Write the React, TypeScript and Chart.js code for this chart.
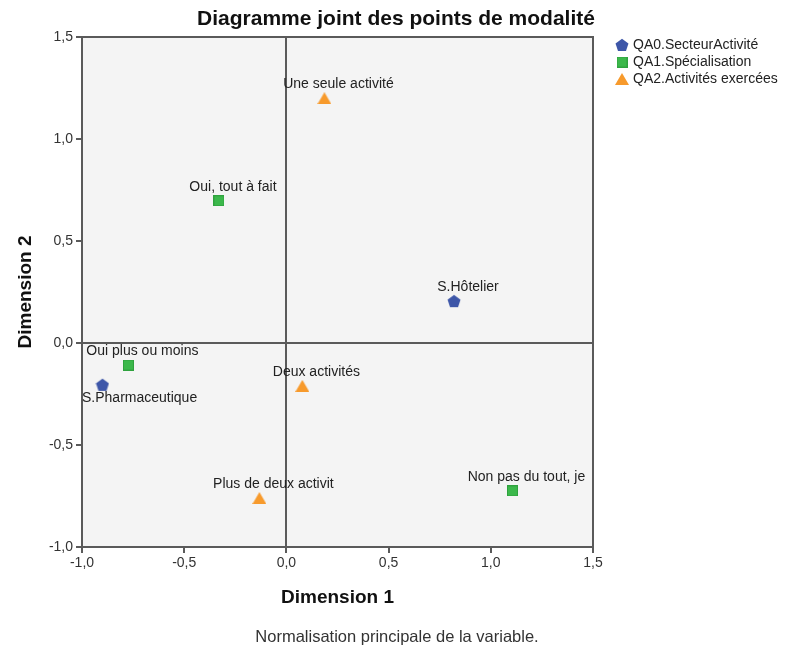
import React, { useEffect, useRef } from "react";
import { Chart, registerables } from "chart.js";

Chart.register(...registerables);

const chartTitle = "Diagramme joint des points de modalité";
const footnote = "Normalisation principale de la variable.";
const xAxisTitle = "Dimension 1";
const yAxisTitle = "Dimension 2";

const seriesNames = ["QA0.SecteurActivité", "QA1.Spécialisation", "QA2.Activités exercées"];

const secteurLabels = ["S.Hôtelier", "S.Pharmaceutique"];
const secteurX = [0.82, -0.9];
const secteurY = [0.205, -0.205];

const specLabels = ["Oui, tout à fait", "Oui plus ou moins", "Non pas du tout, je"];
const specX = [-0.33, -0.773, 1.106];
const specY = [0.697, -0.108, -0.725];

const actLabels = ["Une seule activité", "Deux activités", "Plus de deux activit"];
const actX = [0.186, 0.078, -0.132];
const actY = [1.2, -0.21, -0.76];

// label placement: above or below the mark
const secteurPlace = ["above", "below"];
const specPlace = ["above", "above", "above"];
const actPlace = ["above", "above", "above"];

const BLUE = "#3d56a8";
const GREEN = "#3cb84b";
const ORANGE = "#f79a2c";
const AXIS = "#5a5a5a";
const FONT = "'Liberation Sans', Arial, sans-serif";

function makePentagon(size: number, color: string) {
  const c = document.createElement("canvas");
  c.width = size;
  c.height = size;
  const g = c.getContext("2d")!;
  const cx = size / 2;
  const cy = size / 2 + 0.5;
  const r = size / 2 - 0.2;
  g.beginPath();
  for (let i = 0; i < 5; i++) {
    const a = -Math.PI / 2 + (i * 2 * Math.PI) / 5;
    const px = cx + r * Math.cos(a);
    const py = cy + r * Math.sin(a);
    if (i === 0) g.moveTo(px, py);
    else g.lineTo(px, py);
  }
  g.closePath();
  g.fillStyle = color;
  g.fill();
  return c;
}

function makeSquare(size: number, color: string, border: string) {
  const c = document.createElement("canvas");
  c.width = size;
  c.height = size;
  const g = c.getContext("2d")!;
  g.fillStyle = border;
  g.fillRect(0, 0, size, size);
  g.fillStyle = color;
  g.fillRect(1, 1, size - 2, size - 2);
  return c;
}

function makeTriangle(w: number, h: number, color: string) {
  const c = document.createElement("canvas");
  c.width = w;
  c.height = h;
  const g = c.getContext("2d")!;
  g.beginPath();
  g.moveTo(w / 2, 0);
  g.lineTo(w, h);
  g.lineTo(0, h);
  g.closePath();
  g.fillStyle = color;
  g.fill();
  return c;
}

const fmt = (v: number) => v.toFixed(1).replace(".", ",");

export default function App() {
  const ref = useRef<HTMLCanvasElement>(null);

  useEffect(() => {
    if (!ref.current) return;
    const pent = makePentagon(14, BLUE);
    const sq = makeSquare(11, GREEN, "#2fa23e");
    const tri = makeTriangle(14, 12, ORANGE);
    const icons = [pent, sq, tri];
    const labelSets = [secteurLabels, specLabels, actLabels];
    const placeSets = [secteurPlace, specPlace, actPlace];

    const decor = {
      id: "decor",
      beforeDraw(chart: any) {
        const { ctx, chartArea: a } = chart;
        ctx.save();
        ctx.fillStyle = "#ffffff";
        ctx.fillRect(0, 0, chart.width, chart.height);
        ctx.fillStyle = "#f4f4f4";
        ctx.fillRect(a.left, a.top, a.right - a.left, a.bottom - a.top);
        ctx.restore();
      },
      afterDatasetsDraw(chart: any) {
        const { ctx, chartArea: a } = chart;
        ctx.save();
        ctx.strokeStyle = AXIS;
        ctx.lineWidth = 2;
        ctx.strokeRect(a.left, a.top, a.right - a.left, a.bottom - a.top);
        // point labels
        ctx.font = `14px ${FONT}`;
        ctx.fillStyle = "#222222";
        ctx.textBaseline = "middle";
        ctx.textAlign = "left";
        chart.data.datasets.forEach((ds: any, di: number) => {
          const meta = chart.getDatasetMeta(di);
          meta.data.forEach((el: any, i: number) => {
            const text = labelSets[di][i];
            const w = ctx.measureText(text).width;
            const cx = el.x + 14;
            let left = cx - w / 2;
            if (left < a.left) left = a.left;
            if (left + w > a.right - 2) left = a.right - 2 - w;
            const y = placeSets[di][i] === "below" ? el.y + 13 : el.y - 14;
            ctx.fillText(text, left, y);
          });
        });
        // title
        ctx.textAlign = "center";
        ctx.fillStyle = "#111111";
        ctx.font = `bold 21px ${FONT}`;
        ctx.fillText(chartTitle, 396, 19);
        // footnote
        ctx.font = `16.5px ${FONT}`;
        ctx.fillStyle = "#333333";
        ctx.fillText(footnote, 397, 637);
        // legend
        ctx.textAlign = "left";
        ctx.fillStyle = "#222222";
        ctx.font = `14px ${FONT}`;
        seriesNames.forEach((name, i) => {
          const y = 45 + i * 17;
          const ic = icons[i];
          ctx.drawImage(ic, 622 - ic.width / 2, y - ic.height / 2);
          ctx.fillText(name, 633, y);
        });
        ctx.restore();
      },
    };

    const gridColor = (c: any) => (c.tick && c.tick.value === 0 ? AXIS : "rgba(0,0,0,0)");

    const chart = new Chart(ref.current, {
      type: "scatter",
      data: {
        datasets: [
          {
            label: seriesNames[0],
            data: secteurX.map((x, i) => ({ x, y: secteurY[i] })),
            pointStyle: pent as any,
            backgroundColor: BLUE,
          },
          {
            label: seriesNames[1],
            data: specX.map((x, i) => ({ x, y: specY[i] })),
            pointStyle: sq as any,
            backgroundColor: GREEN,
          },
          {
            label: seriesNames[2],
            data: actX.map((x, i) => ({ x, y: actY[i] })),
            pointStyle: tri as any,
            backgroundColor: ORANGE,
          },
        ],
      },
      options: {
        animation: false,
        responsive: false,
        maintainAspectRatio: false,
        layout: { padding: { top: 37, right: 198, bottom: 0, left: 0 } },
        plugins: { legend: { display: false }, title: { display: false }, tooltip: { enabled: false } },
        scales: {
          x: {
            type: "linear",
            min: -1,
            max: 1.5,
            afterFit: (s: any) => {
              s.height = 103;
            },
            ticks: {
              stepSize: 0.5,
              callback: (v: any) => fmt(Number(v)),
              color: "#333333",
              font: { family: FONT, size: 14 },
              padding: 2,
              maxRotation: 0,
            },
            grid: { color: gridColor, tickColor: AXIS, tickLength: 6, drawTicks: true, lineWidth: 2, tickWidth: 2 },
            border: { display: true, color: AXIS, width: 2 },
            title: {
              display: true,
              text: xAxisTitle,
              color: "#111111",
              font: { family: FONT, size: 19, weight: "bold" },
              padding: { top: 0, bottom: 41 },
            },
          },
          y: {
            type: "linear",
            min: -1,
            max: 1.5,
            afterFit: (s: any) => {
              s.width = 82;
            },
            ticks: {
              stepSize: 0.5,
              callback: (v: any) => fmt(Number(v)),
              color: "#333333",
              font: { family: FONT, size: 14 },
              padding: 3,
            },
            grid: { color: gridColor, tickColor: AXIS, tickLength: 6, drawTicks: true, lineWidth: 2, tickWidth: 2 },
            border: { display: true, color: AXIS, width: 2 },
            title: {
              display: true,
              text: yAxisTitle,
              color: "#111111",
              font: { family: FONT, size: 19, weight: "bold" },
              padding: { top: 14, bottom: 0 },
            },
          },
        },
      },
      plugins: [decor],
    });
    return () => chart.destroy();
  }, []);

  return (
    <div style={{ position: "fixed", left: 0, top: 0, width: 791, height: 650 }}>
      <canvas ref={ref} width={791} height={650} style={{ width: 791, height: 650 }} />
    </div>
  );
}
